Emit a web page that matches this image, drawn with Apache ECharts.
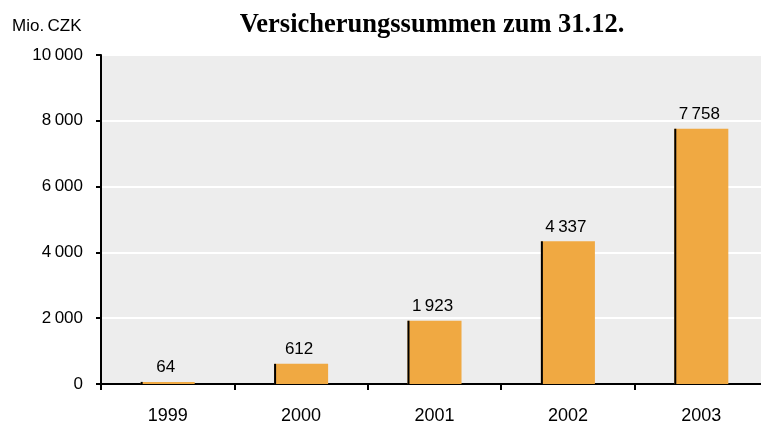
<!DOCTYPE html>
<html>
<head>
<meta charset="utf-8">
<script src="https://cdn.jsdelivr.net/npm/echarts@6/dist/echarts.min.js"></script>
<style>
  html, body { margin: 0; padding: 0; background: #fff; }
  #chart { width: 761px; height: 423px; }
</style>
</head>
<body>
<div id="chart"></div>
<script>
var years = ['1999', '2000', '2001', '2002', '2003'];
var sums = [64, 612, 1923, 4337, 7758];
var yMax = 10000;
var yStep = 2000;

// Tausendertrennzeichen als schmales Leerzeichen
function fmt(n) {
  return String(n).replace(/\B(?=(\d{3})+(?!\d))/g, '\u2009');
}

var chart = echarts.init(document.getElementById('chart'));
chart.setOption({
  animation: false,
  backgroundColor: '#fff',
  graphic: [
    {
      type: 'text', left: 12, top: 18,
      style: { text: 'Mio.\u2009CZK', font: '17px "Liberation Sans"', fill: '#000' }
    },
    {
      type: 'text', x: 432, y: 25,
      style: {
        text: 'Versicherungssummen zum 31.12.',
        font: 'bold 26.5px "Liberation Serif"', fill: '#000',
        textAlign: 'center', textVerticalAlign: 'middle'
      }
    }
  ],
  grid: {
    left: 101, width: 667, top: 55, bottom: 39,
    outerBoundsMode: 'none', containLabel: false,
    show: true, backgroundColor: '#ededed', borderWidth: 0
  },
  xAxis: {
    type: 'category',
    data: years,
    axisLine: { lineStyle: { color: '#000', width: 2 } },
    axisTick: { show: true, length: 6, lineStyle: { color: '#000', width: 2 } },
    axisLabel: { color: '#000', fontSize: 18, fontFamily: 'Liberation Sans', margin: 23 }
  },
  yAxis: {
    type: 'value',
    min: 0, max: yMax, interval: yStep,
    axisLine: { show: true, lineStyle: { color: '#000', width: 2 } },
    axisTick: { show: true, length: 5, lineStyle: { color: '#000', width: 2 } },
    splitLine: { lineStyle: { color: '#fff', width: 2 } },
    axisLabel: { color: '#000', fontSize: 17, fontFamily: 'Liberation Sans', margin: 18, formatter: fmt }
  },
  series: [{
    type: 'custom',
    data: sums.map(function (v, i) { return [i, v]; }),
    renderItem: function (params, api) {
      var base = api.coord([api.value(0), 0]);
      var top = api.coord([api.value(0), api.value(1)]);
      var w = api.size([1, 0])[0] * 0.405;
      var x = base[0] - w / 2;
      return {
        type: 'group',
        children: [
          { type: 'rect', shape: { x: x, y: top[1], width: w, height: base[1] - top[1] }, style: { fill: '#f0a942' } },
          { type: 'line', shape: { x1: x + 1, y1: top[1], x2: x + 1, y2: base[1] }, style: { stroke: '#000', lineWidth: 2 } },
          {
            type: 'text', x: base[0] - 2, y: top[1] - 6,
            style: {
              text: fmt(api.value(1)), font: '17px "Liberation Sans"', fill: '#000',
              textAlign: 'center', textVerticalAlign: 'bottom'
            }
          }
        ]
      };
    }
  }]
});
</script>
</body>
</html>
